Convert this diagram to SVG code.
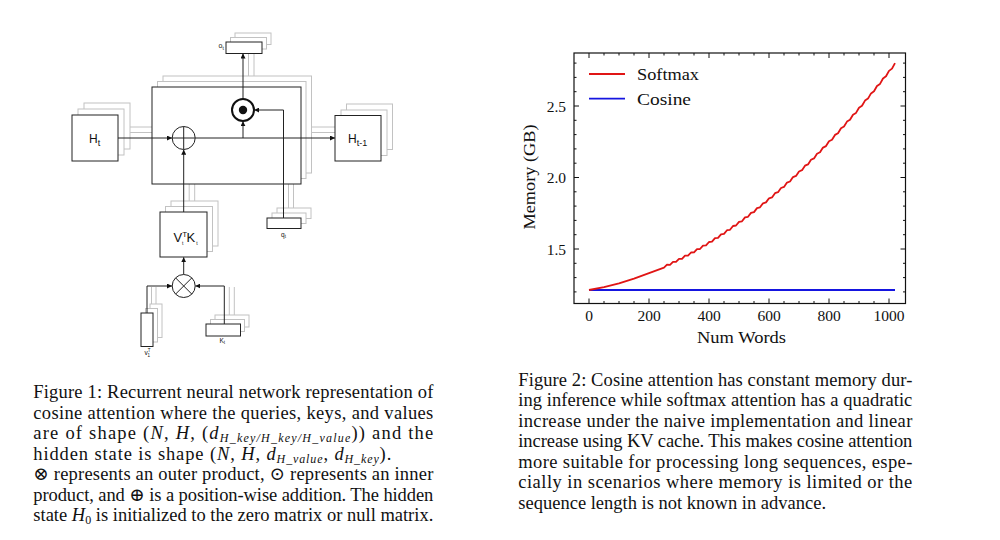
<svg xmlns="http://www.w3.org/2000/svg" width="1000" height="540" viewBox="0 0 1000 540">
<style>
.box{fill:#fff;stroke:#222;stroke-width:1}
.sh{fill:#fff;stroke:#c2c2c2;stroke-width:1}
.ln{fill:none;stroke:#222;stroke-width:1}
.gl{fill:none;stroke:#c2c2c2;stroke-width:1}
.sans{font-family:"Liberation Sans",Arial,sans-serif;fill:#111}
.serif{font-family:"Liberation Serif","DejaVu Serif",serif;fill:#111}
.cap{font-family:"Liberation Serif","DejaVu Serif",serif;font-size:18.5px;fill:#111}
.it{font-style:italic}
.sub{font-style:italic;font-size:12px}
.tick{fill:none;stroke:#111;stroke-width:1}
</style>
<defs>
<marker id="ah" viewBox="0 0 6 6" markerWidth="5" markerHeight="5" refX="6" refY="3" orient="auto" markerUnits="userSpaceOnUse"><path d="M0,0 L6,3 L0,6 z" fill="#111"/></marker>
</defs>
<rect width="1000" height="540" fill="#fff"/>

<g id="shadow-connectors" class="gl">
<path d="M248.5,48.5V81.5M254,44V76"/>
<path d="M124,132.5H157.5M130,127H163"/>
<path d="M306,132.5H341M311.5,127H346.5"/>
<path d="M189.2,206.5V178.5M194.7,201V173"/>
<path d="M288.5,213.5V178.5M293.5,209V173"/>
<path d="M151.5,287V308.5M156,287V304"/>
<path d="M229.3,287V319.5M234.3,287V315"/>
</g>

<g id="node-main">
<rect class="sh" x="163" y="76" width="148.5" height="97"/>
<rect class="sh" x="157.5" y="81.5" width="148.5" height="97"/>
<rect class="box" x="152" y="87" width="149" height="97"/>
</g>
<g id="node-Ht">
<rect class="sh" x="84" y="103" width="46" height="46"/>
<rect class="sh" x="78" y="109" width="46" height="46"/>
<rect class="box" x="72" y="115" width="46" height="46"/>
<text class="sans" x="89" y="142.5" font-size="12">H<tspan font-size="9" dy="3">t</tspan></text>
</g>
<g id="node-Ht-1">
<rect class="sh" x="346.5" y="104" width="46" height="45.5"/>
<rect class="sh" x="341" y="110" width="46" height="45.5"/>
<rect class="box" x="335" y="115.5" width="46" height="45.5"/>
<text class="sans" x="348" y="142.5" font-size="12">H<tspan font-size="9" dy="3">t-1</tspan></text>
</g>
<g id="node-ot">
<rect class="sh" x="235" y="33" width="36" height="11.5"/>
<rect class="sh" x="230.5" y="37.5" width="36" height="11.5"/>
<rect class="box" x="226" y="42" width="36" height="11.5"/>
<text class="sans" x="218.5" y="48" font-size="7">o<tspan font-size="5" dy="1.5">t</tspan></text>
</g>
<g id="node-VK">
<rect class="sh" x="171" y="201" width="47" height="45"/>
<rect class="sh" x="165.5" y="206.5" width="47" height="45"/>
<rect class="box" x="160" y="212" width="47" height="45"/>
<text class="sans" x="173.5" y="241.5" font-size="13">V<tspan font-size="8" dy="-5">T</tspan><tspan font-size="5" dx="-5" dy="8">t</tspan><tspan dy="-3" dx="3">K</tspan><tspan font-size="5" dx="1" dy="3">t</tspan></text>
</g>
<g id="node-qt">
<rect class="sh" x="277" y="208" width="34" height="10.5"/>
<rect class="sh" x="272" y="213" width="34" height="10.5"/>
<rect class="box" x="267" y="218" width="34" height="10.5"/>
<text class="sans" x="281" y="237" font-size="6.5">q<tspan font-size="4.5" dy="1.2">t</tspan></text>
</g>
<g id="node-vt">
<rect class="sh" x="150" y="304" width="12" height="33.5"/>
<rect class="sh" x="145.5" y="308.5" width="12" height="33.5"/>
<rect class="box" x="141" y="313" width="12" height="33.5"/>
<text class="sans" x="144.5" y="355" font-size="6.5">v<tspan font-size="4.5" dy="-3.5">T</tspan><tspan font-size="4.5" dx="-3" dy="5">1</tspan></text>
</g>
<g id="node-kt">
<rect class="sh" x="215" y="315" width="34" height="12"/>
<rect class="sh" x="210.5" y="319.5" width="34" height="12"/>
<rect class="box" x="206" y="324" width="34.5" height="12"/>
<text class="sans" x="219.5" y="343" font-size="6.5">K<tspan font-size="4.5" dy="1.2">t</tspan></text>
</g>

<g id="connectors" class="ln">
<path d="M118,138H172" marker-end="url(#ah)"/>
<path d="M195.2,138H335" marker-end="url(#ah)"/>
<path d="M243,138V121.2" marker-end="url(#ah)"/>
<path d="M243,99V53.5" marker-end="url(#ah)"/>
<path d="M283.5,218V110H254.2" marker-end="url(#ah)"/>
<path d="M183.7,212V149.7" marker-end="url(#ah)"/>
<path d="M183.7,274.5V257.3" marker-end="url(#ah)"/>
<path d="M147,313V286H172" marker-end="url(#ah)"/>
<path d="M224.3,324V286H195.4" marker-end="url(#ah)"/>
</g>

<g id="node-plus">
<circle cx="183.7" cy="138" r="11.5" fill="#fff" stroke="#222" stroke-width="1"/>
<path class="ln" d="M172.2,138H195.2M183.7,126.5V149.5"/>
</g>
<g id="node-dot">
<circle cx="243" cy="110" r="11" fill="#fff" stroke="#111" stroke-width="2"/>
<circle cx="243" cy="110" r="4.2" fill="#111"/>
</g>
<g id="node-otimes">
<circle cx="183.7" cy="286" r="11.5" fill="#fff" stroke="#222" stroke-width="1"/>
<path class="ln" d="M175.6,277.9L191.8,294.1M191.8,277.9L175.6,294.1"/>
</g>

<g id="chart">
<path d="M589,290H895" fill="none" stroke="#1515e0" stroke-width="1.8"/>
<polyline fill="none" stroke="#e01515" stroke-width="1.8" stroke-linejoin="round" points="589,290 604,287.1 619,283.3 634,278.6 649,273.1 664,267.6 667,264.6 670,264.8 673,261.8 676,261.9 679,258.8 682,258.9 685,255.7 688,255.7 691,252.5 694,252.4 697,249.1 700,249.0 703,245.6 706,245.4 709,242.0 712,241.7 715,238.2 718,237.9 721,234.3 724,233.9 727,230.2 730,229.8 733,226.0 736,225.5 739,221.9 742,221.3 745,217.4 748,216.8 751,212.9 754,212.1 757,208.1 760,207.3 763,203.3 766,202.4 769,198.3 772,197.4 775,193.2 778,192.2 781,188.0 784,186.9 787,182.6 790,181.5 793,177.1 796,175.9 799,171.5 802,170.2 805,165.7 808,164.4 811,159.8 814,158.4 817,153.8 820,152.3 823,147.6 826,146.1 829,141.3 832,139.7 835,134.9 838,133.2 841,128.3 844,126.5 847,121.6 850,119.8 853,114.7 856,112.9 859,107.8 862,105.8 865,100.6 868,98.6 871,93.4 874,91.3 877,86.0 880,83.9 883,78.5 886,76.3 889,70.9 892,68.6 895,63.1"/>
<rect x="574" y="53" width="331.5" height="250.5" fill="none" stroke="#111" stroke-width="1.2"/>
<path class="tick" d="M589,303.5v-5M649,303.5v-5M709,303.5v-5M769,303.5v-5M829,303.5v-5M889,303.5v-5
M589,53v5M649,53v5M709,53v5M769,53v5M829,53v5M889,53v5
M604,303.5v-2.5M619,303.5v-2.5M634,303.5v-2.5M664,303.5v-2.5M679,303.5v-2.5M694,303.5v-2.5M724,303.5v-2.5M739,303.5v-2.5M754,303.5v-2.5M784,303.5v-2.5M799,303.5v-2.5M814,303.5v-2.5M844,303.5v-2.5M859,303.5v-2.5M874,303.5v-2.5
M604,53v2.5M619,53v2.5M634,53v2.5M664,53v2.5M679,53v2.5M694,53v2.5M724,53v2.5M739,53v2.5M754,53v2.5M784,53v2.5M799,53v2.5M814,53v2.5M844,53v2.5M859,53v2.5M874,53v2.5
M574,106h5M574,177.5h5M574,249h5M905.5,106h-5M905.5,177.5h-5M905.5,249h-5
M574,291.9h2.5M574,277.6h2.5M574,263.3h2.5M574,234.7h2.5M574,220.4h2.5M574,206.1h2.5M574,191.8h2.5M574,163.2h2.5M574,148.9h2.5M574,134.6h2.5M574,120.3h2.5M574,91.7h2.5M574,77.4h2.5M574,63.1h2.5
M905.5,291.9h-2.5M905.5,277.6h-2.5M905.5,263.3h-2.5M905.5,234.7h-2.5M905.5,220.4h-2.5M905.5,206.1h-2.5M905.5,191.8h-2.5M905.5,163.2h-2.5M905.5,148.9h-2.5M905.5,134.6h-2.5M905.5,120.3h-2.5M905.5,91.7h-2.5M905.5,77.4h-2.5M905.5,63.1h-2.5"/>
<g class="serif" font-size="15.5" text-anchor="middle">
<text x="589" y="321">0</text>
<text x="649" y="321">200</text>
<text x="709" y="321">400</text>
<text x="769" y="321">600</text>
<text x="829" y="321">800</text>
<text x="889" y="321">1000</text>
</g>
<g class="serif" font-size="15.5" text-anchor="end">
<text x="566" y="254.5">1.5</text>
<text x="566" y="183">2.0</text>
<text x="566" y="111.5">2.5</text>
</g>
<text class="serif" x="741.5" y="342.5" font-size="16" text-anchor="middle" textLength="89" lengthAdjust="spacingAndGlyphs">Num Words</text>
<text class="serif" transform="translate(535,177) rotate(-90)" font-size="16" text-anchor="middle" textLength="105" lengthAdjust="spacingAndGlyphs">Memory (GB)</text>
<path d="M589,74H625" stroke="#e01515" stroke-width="1.8"/>
<path d="M589,98.7H625" stroke="#1515e0" stroke-width="1.8"/>
<text class="serif" x="637" y="80" font-size="16" textLength="62" lengthAdjust="spacingAndGlyphs">Softmax</text>
<text class="serif" x="637" y="104.5" font-size="16" textLength="54" lengthAdjust="spacingAndGlyphs">Cosine</text>
</g>

<g id="caption1" class="cap">
<text x="33.3" y="398" textLength="400" lengthAdjust="spacing">Figure 1: Recurrent neural network representation of</text>
<text x="33.3" y="418.5" textLength="400" lengthAdjust="spacing">cosine attention where the queries, keys, and values</text>
<text x="33.3" y="439" textLength="400" lengthAdjust="spacing">are of shape (<tspan class="it">N</tspan>, <tspan class="it">H</tspan>, (<tspan class="it">d</tspan><tspan class="sub" dy="3">H_key/H_key/H_value</tspan><tspan dy="-3">)) and the</tspan></text>
<text x="33.3" y="459.5" textLength="358" lengthAdjust="spacing">hidden state is shape (<tspan class="it">N</tspan>, <tspan class="it">H</tspan>, <tspan class="it">d</tspan><tspan class="sub" dy="3">H_value</tspan><tspan dy="-3">, </tspan><tspan class="it">d</tspan><tspan class="sub" dy="3">H_key</tspan><tspan dy="-3">).</tspan></text>
<text x="33.3" y="480" textLength="400" lengthAdjust="spacing">⊗ represents an outer product, ⊙ represents an inner</text>
<text x="33.3" y="500.5" textLength="400" lengthAdjust="spacing">product, and ⊕ is a position-wise addition. The hidden</text>
<text x="33.3" y="521" textLength="400" lengthAdjust="spacing">state <tspan class="it">H</tspan><tspan font-size="12" dy="3">0</tspan><tspan dy="-3"> is initialized to the zero matrix or null matrix.</tspan></text>
</g>
<g id="caption2" class="cap">
<text x="518.3" y="385.5" textLength="394" lengthAdjust="spacing">Figure 2: Cosine attention has constant memory dur-</text>
<text x="518.3" y="406" textLength="394" lengthAdjust="spacing">ing inference while softmax attention has a quadratic</text>
<text x="518.3" y="426.5" textLength="394" lengthAdjust="spacing">increase under the naive implementation and linear</text>
<text x="518.3" y="447" textLength="394" lengthAdjust="spacing">increase using KV cache. This makes cosine attention</text>
<text x="518.3" y="467.5" textLength="394" lengthAdjust="spacing">more suitable for processing long sequences, espe-</text>
<text x="518.3" y="488" textLength="394" lengthAdjust="spacing">cially in scenarios where memory is limited or the</text>
<text x="518.3" y="508.5">sequence length is not known in advance.</text>
</g>
</svg>
